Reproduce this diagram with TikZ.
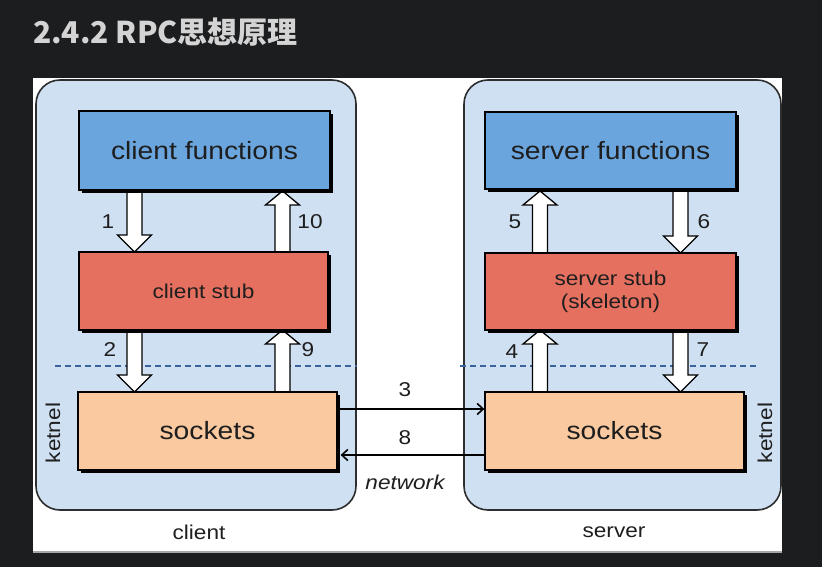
\documentclass[tikz,border=0pt]{standalone}
\usepackage{fontspec}
\setmainfont{Liberation Sans}[FakeStretch=1.13]
\newfontfamily\cjk{Noto Sans CJK SC}
\usetikzlibrary{arrows.meta,shadows,calc}
\definecolor{bgdark}{HTML}{1C1D1F}
\definecolor{titlegray}{HTML}{D4D4D4}
\definecolor{contfill}{HTML}{CFE0F2}
\definecolor{contline}{HTML}{2E2E2E}
\definecolor{funcblue}{HTML}{6AA5DE}
\definecolor{stubred}{HTML}{E6705F}
\definecolor{sockpeach}{HTML}{FBC9A0}
\definecolor{dashblue}{HTML}{3A639E}
\definecolor{textdark}{HTML}{1E1E1E}
\newcommand\bdown[3]{\draw[barrow] (#1-7.5,#2) -- (#1-7.5,#3-17) -- (#1-17,#3-17) -- (#1,#3) -- (#1+17,#3-17) -- (#1+7.5,#3-17) -- (#1+7.5,#2) -- cycle;}
\newcommand\bup[3]{\draw[barrow] (#1-7.5,#3) -- (#1-7.5,#2+14) -- (#1-17,#2+14) -- (#1,#2) -- (#1+17,#2+14) -- (#1+7.5,#2+14) -- (#1+7.5,#3) -- cycle;}
\tikzset{
  box/.style={draw=black, line width=1.3pt, inner sep=0pt, align=center, text=textdark,
    drop shadow={shadow xshift=3pt, shadow yshift=-3pt, fill=black, opacity=1}},
  funcbox/.style={box, fill=funcblue, font=\fontsize{25}{30}\selectfont},
  stubbox/.style={box, fill=stubred, font=\fontsize{20}{24}\selectfont},
  sockbox/.style={box, fill=sockpeach, font=\fontsize{25}{30}\selectfont},
  container/.style={draw=contline, line width=1.6pt, fill=contfill, rounded corners=24pt},
  barrow/.style={draw=black, line width=1.3pt, fill=white, line join=miter},
  numlabel/.style={font=\fontsize{20}{24}\selectfont, inner sep=0pt, text=textdark},
  netarrow/.style={draw=black, line width=1.6pt, -{Straight Barb[length=6pt,width=11pt,line width=1.6pt]}},
  layerline/.style={draw=dashblue, line width=1.8pt, dash pattern=on 6pt off 4pt},
}
\begin{document}
\begin{tikzpicture}[x=1pt,y=-1pt]
\useasboundingbox (0,0) rectangle (822,567);
\fill[bgdark] (0,0) rectangle (822,567);
\node[anchor=base west, inner sep=0pt, text=titlegray, font=\cjk\bfseries\fontsize{30}{35}\selectfont] (title) at (33,44) {2.4.2 RPC思想原理};
% panel
\fill[gray!70] (33,80) rectangle (782,553);
\fill[white] (33,78) rectangle (782,551);
% containers
\path[container] (36,80) rectangle (356,510);
\path[container] (464,80) rectangle (781,510);
% layer lines
\draw[layerline] (55,366) -- (357,366);
\draw[layerline] (460,366) -- (758,366);
% block arrows (client)
\bdown{134.5}{190}{252}
\bup{282.5}{191}{252}
\bdown{134.5}{330}{392}
\bup{282.5}{330}{392}
% block arrows (server)
\bup{540}{191}{253}
\bdown{680.5}{189}{253}
\bup{540}{330}{392}
\bdown{680.5}{330}{392}
% boxes
\node[funcbox, minimum width=251pt, minimum height=79pt] (cf) at (204.5,150.5) {client functions};
\node[stubbox, minimum width=249pt, minimum height=78pt] (cs) at (203.5,291) {client stub};
\node[sockbox, minimum width=259pt, minimum height=78pt] (ck) at (207.5,431) {sockets};
\node[funcbox, minimum width=251pt, minimum height=77pt] (sf) at (610.5,150.5) {server functions};
\node[stubbox, minimum width=251pt, minimum height=77pt] (ss) at (610.5,291.5) {server stub\\[-1pt](skeleton)};
\node[sockbox, minimum width=259pt, minimum height=78pt] (sk) at (614.5,431) {sockets};
% network arrows
\draw[netarrow] ($(ck.east)+(0,-22)$) -- ($(sk.west)+(0,-22)$);
\draw[netarrow] ($(sk.west)+(0,24)$) -- ($(ck.east)+(3,24)$);
% labels
\node[numlabel] (l1) at (108,222) {1};
\node[numlabel] (l10) at (310,222) {10};
\node[numlabel] (l2) at (110,350) {2};
\node[numlabel] (l9) at (308,350) {9};
\node[numlabel] (l5) at (515,222) {5};
\node[numlabel] (l6) at (704,222) {6};
\node[numlabel] (l4) at (512,352) {4};
\node[numlabel] (l7) at (703,350) {7};
\node[numlabel] (l3) at (405,390) {3};
\node[numlabel] (l8) at (405,438) {8};
\node[numlabel, font=\itshape\fontsize{20}{24}\selectfont] (net) at (405,482) {network};
\node[numlabel, rotate=90] (kl) at (53,433) {ketnel};
\node[numlabel, rotate=90] (kr) at (765,433) {ketnel};
\node[numlabel] (cl) at (199,532) {client};
\node[numlabel] (sl) at (614,532) {server};
\end{tikzpicture}
\end{document}
